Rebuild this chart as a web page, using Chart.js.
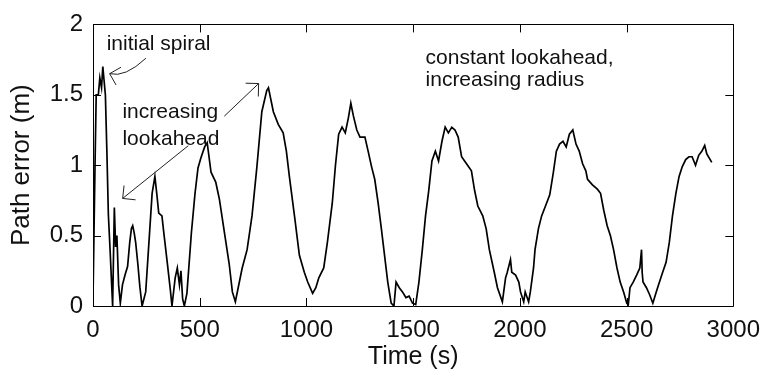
<!DOCTYPE html>
<html>
<head>
<meta charset="utf-8">
<script src="https://cdn.jsdelivr.net/npm/chart.js@4/dist/chart.umd.min.js"></script>
<style>
  html, body { margin: 0; padding: 0; background: #fff; }
</style>
</head>
<body>
<canvas id="chart" width="770" height="374"></canvas>
<script>
// path error readings
const timeSec = [
    0, 5, 10, 15, 25, 32, 40, 46, 52, 58, 65, 72, 80, 92, 100, 106, 112, 120, 128, 138,
    150, 162, 172, 180, 186, 193, 200, 210, 220, 230, 247, 262, 277, 290, 300, 308, 323, 331, 347, 362,
    370, 385, 395, 405, 412, 420, 428, 440, 461, 478, 492, 505, 523, 535, 553, 575, 592, 616, 638, 653,
    667, 699, 722, 745, 768, 791, 814, 822, 845, 868, 891, 906, 920, 944, 967, 990, 1006, 1029, 1044, 1058,
    1081, 1098, 1121, 1136, 1151, 1167, 1182, 1197, 1208, 1220, 1236, 1251, 1274, 1289, 1305, 1320, 1336, 1351, 1366, 1381,
    1397, 1410, 1420, 1435, 1450, 1466, 1481, 1497, 1512, 1527, 1543, 1558, 1573, 1588, 1604, 1619, 1635, 1650, 1665, 1681,
    1696, 1711, 1727, 1750, 1773, 1788, 1803, 1826, 1842, 1857, 1880, 1895, 1918, 1933, 1941, 1956, 1962, 1980, 1995, 2003,
    2018, 2025, 2041, 2049, 2064, 2071, 2087, 2102, 2125, 2140, 2156, 2171, 2186, 2202, 2217, 2232, 2248, 2263, 2278, 2294,
    2309, 2317, 2340, 2363, 2378, 2393, 2409, 2424, 2439, 2455, 2470, 2486, 2501, 2508, 2516, 2531, 2547, 2562, 2570, 2573,
    2577, 2593, 2608, 2623, 2639, 2654, 2669, 2685, 2700, 2715, 2731, 2746, 2761, 2777, 2792, 2807, 2823, 2838, 2853, 2866,
    2876, 2899
];
const pathError = [
    0.05, 0.55, 1.05, 1.5, 1.5, 1.62, 1.55, 1.7, 1.6, 1.5, 1.1, 0.65, 0.4, 0, 0.7, 0.42, 0.5, 0.15, 0.02, 0.15,
    0.22, 0.28, 0.45, 0.55, 0.57, 0.52, 0.45, 0.3, 0.13, 0, 0.1, 0.45, 0.8, 0.92, 0.78, 0.66, 0.64, 0.53, 0.32, 0.12,
    0, 0.2, 0.27, 0.15, 0.25, 0.05, 0, 0.09, 0.52, 0.8, 0.98, 1.05, 1.13, 1.16, 0.95, 0.88, 0.76, 0.52, 0.3, 0.1,
    0.03, 0.27, 0.4, 0.64, 0.99, 1.38, 1.53, 1.55, 1.38, 1.29, 1.23, 1.1, 0.92, 0.64, 0.36, 0.24, 0.17, 0.09, 0.13, 0.2,
    0.27, 0.45, 0.73, 1.0, 1.22, 1.27, 1.23, 1.34, 1.44, 1.35, 1.25, 1.2, 1.2, 1.1, 0.99, 0.9, 0.73, 0.55, 0.36, 0.17,
    0.02, 0, 0.17, 0.13, 0.1, 0.06, 0.07, 0.02, 0.01, 0.17, 0.4, 0.64, 0.82, 1.03, 1.1, 1.03, 1.17, 1.27, 1.23, 1.27,
    1.25, 1.2, 1.06, 1.01, 0.96, 0.82, 0.71, 0.64, 0.55, 0.4, 0.24, 0.13, 0.03, 0.2, 0.24, 0.33, 0.24, 0.22, 0.17, 0.1,
    0.03, 0.1, 0.03, 0.1, 0.27, 0.4, 0.55, 0.64, 0.73, 0.79, 0.94, 1.1, 1.15, 1.17, 1.13, 1.22, 1.25, 1.15, 1.1, 1.01,
    0.96, 0.9, 0.86, 0.83, 0.8, 0.68, 0.57, 0.5, 0.4, 0.27, 0.17, 0.1, 0.02, 0.01, 0.13, 0.17, 0.22, 0.27, 0.4, 0.24,
    0.17, 0.13, 0.08, 0.02, 0.1, 0.17, 0.24, 0.31, 0.45, 0.64, 0.8, 0.92, 0.99, 1.04, 1.06, 1.06, 1.0, 1.07, 1.1, 1.14,
    1.08, 1.02
];

const xTicks = [0, 500, 1000, 1500, 2000, 2500, 3000];
const yTicks = [0, 0.5, 1, 1.5, 2];

// annotation text, anchored in data units (time, error)
const notes = [
    { lines: ['initial spiral'], at: [64, 1.82], gap: 0 },
    { lines: ['increasing', 'lookahead'], at: [138, 1.336], gap: 0.19 },
    { lines: ['constant lookahead,', 'increasing radius'], at: [1558, 1.72], gap: 0.155 }
];
// arrows: from -> to (data units), optional bend point
const arrows = [
    { from: [248, 1.76], bend: [150, 1.62], to: [78, 1.65] },
    { from: [615, 1.348], to: [776, 1.58] },
    { from: [446, 1.138], to: [139, 0.764] }
];

const FONT = 'Liberation Sans, Arial, sans-serif';

const frameAndNotes = {
    id: 'frameAndNotes',
    afterDraw(chart) {
        const ctx = chart.ctx;
        const a = chart.chartArea;
        const xs = chart.scales.x;
        const ys = chart.scales.y;
        const tl = 8;
        ctx.save();
        ctx.strokeStyle = '#000';
        ctx.lineWidth = 1;
        ctx.beginPath();
        ctx.rect(Math.round(a.left) + 0.5, Math.round(a.top) + 0.5,
            Math.round(a.right - a.left), Math.round(a.bottom - a.top));
        ctx.stroke();

        // inward ticks on all four sides
        ctx.beginPath();
        xTicks.forEach(v => {
            const px = Math.round(xs.getPixelForValue(v)) + 0.5;
            ctx.moveTo(px, a.bottom); ctx.lineTo(px, a.bottom - tl);
            ctx.moveTo(px, a.top); ctx.lineTo(px, a.top + tl);
        });
        yTicks.forEach(v => {
            const py = Math.round(ys.getPixelForValue(v)) + 0.5;
            ctx.moveTo(a.left, py); ctx.lineTo(a.left + tl, py);
            ctx.moveTo(a.right, py); ctx.lineTo(a.right - tl, py);
        });
        ctx.stroke();

        // labels
        ctx.fillStyle = '#111';
        ctx.font = '21px ' + FONT;
        ctx.textAlign = 'left';
        ctx.textBaseline = 'alphabetic';
        notes.forEach(n => {
            const x = xs.getPixelForValue(n.at[0]);
            n.lines.forEach((s, i) => {
                ctx.fillText(s, x, ys.getPixelForValue(n.at[1] - i * n.gap));
            });
        });

        // arrows
        ctx.strokeStyle = '#222';
        arrows.forEach(ar => {
            const x0 = xs.getPixelForValue(ar.from[0]), y0 = ys.getPixelForValue(ar.from[1]);
            const x1 = xs.getPixelForValue(ar.to[0]), y1 = ys.getPixelForValue(ar.to[1]);
            ctx.beginPath();
            ctx.moveTo(x0, y0);
            let bx = x0, by = y0;
            if (ar.bend) {
                bx = xs.getPixelForValue(ar.bend[0]);
                by = ys.getPixelForValue(ar.bend[1]);
                ctx.quadraticCurveTo(bx, by, x1, y1);
            } else {
                ctx.lineTo(x1, y1);
            }
            ctx.stroke();
            const ang = Math.atan2(by - y1, bx - x1);
            const len = 13, spread = Math.PI / 4;
            ctx.beginPath();
            ctx.moveTo(x1 + len * Math.cos(ang - spread), y1 + len * Math.sin(ang - spread));
            ctx.lineTo(x1, y1);
            ctx.lineTo(x1 + len * Math.cos(ang + spread), y1 + len * Math.sin(ang + spread));
            ctx.stroke();
        });
        ctx.restore();
    }
};

new Chart(document.getElementById('chart'), {
    type: 'line',
    data: {
        datasets: [{
            data: timeSec.map((t, i) => ({ x: t, y: pathError[i] })),
            borderColor: '#000',
            borderWidth: 1.7,
            pointRadius: 0,
            tension: 0,
            fill: false
        }]
    },
    options: {
        responsive: false,
        animation: false,
        events: [],
        layout: { padding: { top: 20, right: 26, left: 0, bottom: 0 } },
        plugins: {
            legend: { display: false },
            tooltip: { enabled: false }
        },
        scales: {
            x: {
                type: 'linear',
                min: 0,
                max: 3000,
                afterBuildTicks: scale => { scale.ticks = xTicks.map(v => ({ value: v })); },
                afterFit: scale => { scale.height = 68; },
                grid: { display: false, drawTicks: false },
                border: { display: false },
                ticks: {
                    padding: 10,
                    color: '#111',
                    maxRotation: 0,
                    font: { family: FONT, size: 24 },
                    callback: v => String(v)
                },
                title: {
                    display: true,
                    text: 'Time (s)',
                    color: '#111',
                    padding: { top: 0, bottom: 2 },
                    font: { family: FONT, size: 25 }
                }
            },
            y: {
                min: 0,
                max: 2,
                afterBuildTicks: scale => { scale.ticks = yTicks.map(v => ({ value: v })); },
                afterFit: scale => { scale.width = 93; },
                grid: { display: false, drawTicks: false },
                border: { display: false },
                ticks: {
                    padding: 10,
                    color: '#111',
                    font: { family: FONT, size: 24 },
                    callback: v => String(v)
                },
                title: {
                    display: true,
                    text: 'Path error (m)',
                    color: '#111',
                    padding: { top: 6, bottom: 0 },
                    font: { family: FONT, size: 26 }
                }
            }
        }
    },
    plugins: [frameAndNotes]
});
</script>
</body>
</html>
